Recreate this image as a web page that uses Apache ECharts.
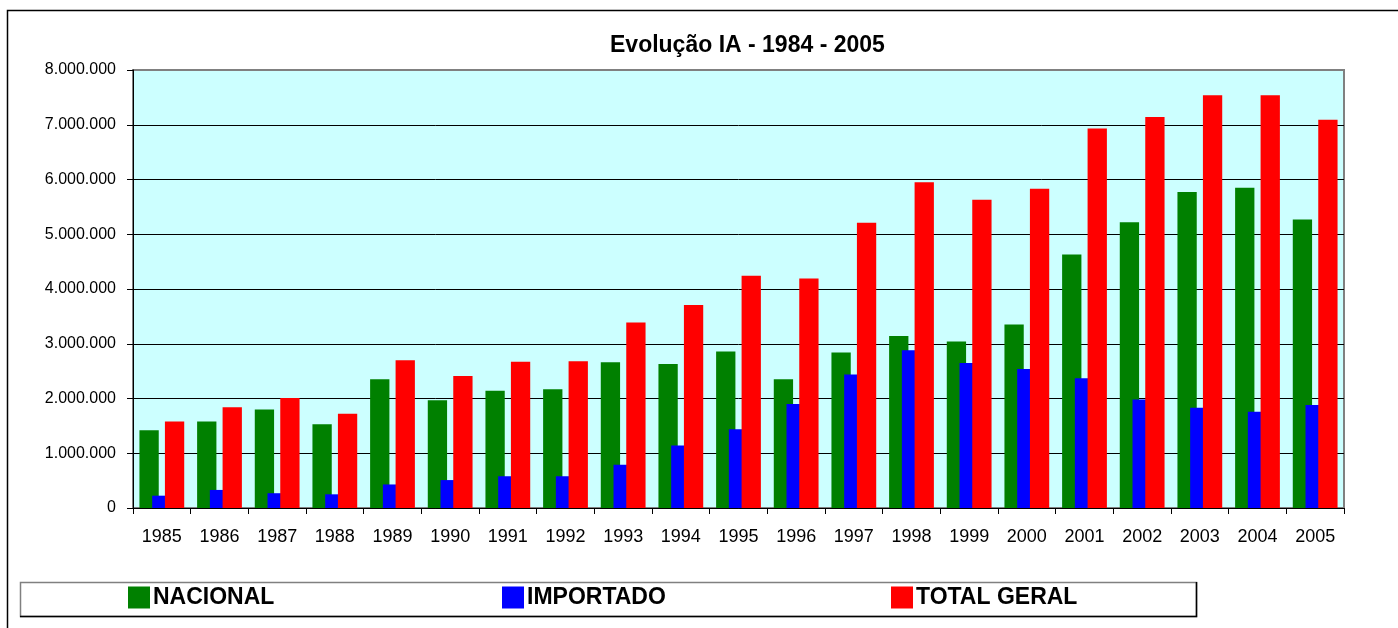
<!DOCTYPE html>
<html>
<head>
<meta charset="utf-8">
<script src="https://cdn.jsdelivr.net/npm/echarts@6/dist/echarts.min.js"></script>
<style>
html,body{margin:0;padding:0;background:#fff;}
#chart{width:1398px;height:628px;}
</style>
</head>
<body>
<div id="chart"></div>
<script>
var years = ['1985','1986','1987','1988','1989','1990','1991','1992','1993','1994','1995','1996','1997','1998','1999','2000','2001','2002','2003','2004','2005'];
var nacional = [1420000,1580000,1800000,1530000,2350000,1970000,2140000,2170000,2660000,2630000,2860000,2350000,2840000,3140000,3040000,3350000,4630000,5220000,5770000,5850000,5270000];
var importado = [225000,330000,270000,250000,430000,510000,580000,580000,790000,1140000,1440000,1900000,2440000,2880000,2650000,2540000,2370000,1980000,1830000,1760000,1880000];
var totalGeral = [1580000,1840000,2010000,1720000,2700000,2410000,2670000,2680000,3390000,3710000,4240000,4190000,5210000,5950000,5630000,5830000,6930000,7140000,7540000,7540000,7090000];
var seriesNames = ['NACIONAL','IMPORTADO','TOTAL GERAL'];
var titleText = 'Evolução IA - 1984 - 2005';

function fmt(v){ return String(v).replace(/\B(?=(\d{3})+(?!\d))/g, '.'); }

var chart = echarts.init(document.getElementById('chart'), null, {renderer:'canvas'});
var font = '"Liberation Sans", Arial, sans-serif';
var legendText = {fontFamily: font, fontWeight: 'bold', fontSize: 23, color: '#000', padding:[0,0,0,-2]};
function lg(name, left){
  return {data:[name], left:left, top:586, itemWidth:22, itemHeight:22, icon:'rect', padding:0, z:10,
          selectedMode:false, textStyle: legendText};
}
chart.setOption({
  animation:false,
  backgroundColor:'#fff',
  title:{text:titleText, left:610, top:34, padding:0,
         textStyle:{fontFamily:font, fontWeight:'bold', fontSize:23, color:'#000'}},
  legend:[lg(seriesNames[0],128), lg(seriesNames[1],502), lg(seriesNames[2],891)],
  graphic:[
    {type:'rect', z:-10, shape:{x:7.5, y:10.5, width:1400, height:640}, style:{fill:'none', stroke:'#000', lineWidth:1.5}, silent:true},
    {type:'rect', z:1, shape:{x:20.5, y:582.5, width:1176, height:34}, style:{fill:'#fff', stroke:'#808080', lineWidth:1.5}, silent:true},
    {type:'polyline', z:2, shape:{points:[[20,616.5],[1196.5,616.5],[1196.5,582]]}, style:{fill:'none', stroke:'#000', lineWidth:1.5}, silent:true}
  ],
  grid:{left:133, top:70, width:1211, height:438, show:true, backgroundColor:'#CCFFFF', borderColor:'#808080', borderWidth:2, containLabel:false},
  xAxis:{type:'category', data:years,
    axisLine:{show:true, lineStyle:{color:'#000', width:1}},
    axisTick:{show:true, length:6, lineStyle:{color:'#000'}},
    axisLabel:{fontFamily:font, fontSize:18, color:'#000', margin:20, interval:0},
    splitLine:{show:false}},
  yAxis:{type:'value', min:0, max:8000000, interval:1000000,
    axisLine:{show:true, lineStyle:{color:'#000', width:1}},
    axisTick:{show:true, length:6, lineStyle:{color:'#000'}},
    axisLabel:{fontFamily:font, fontSize:16, color:'#000', margin:17, formatter:fmt},
    splitLine:{show:true, showMaxLine:false, lineStyle:{color:'#000', width:1}}},
  series:[
    {name:seriesNames[0], type:'bar', data:nacional, barWidth:19.3, barGap:'-34%', itemStyle:{color:'#008000'}},
    {name:seriesNames[1], type:'bar', data:importado, barWidth:19.3, barGap:'-34%', itemStyle:{color:'#0000FF'}},
    {name:seriesNames[2], type:'bar', data:totalGeral, barWidth:19.3, barGap:'-34%', itemStyle:{color:'#FF0000'}}
  ]
});
</script>
</body>
</html>
